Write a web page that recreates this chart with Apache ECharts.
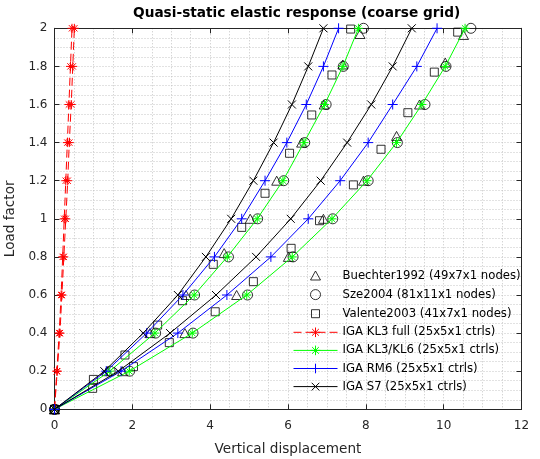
<!DOCTYPE html>
<html>
<head>
	<meta charset="utf-8" />
	<title>Quasi-static elastic response</title>
	<script src="https://cdn.jsdelivr.net/npm/echarts@6/dist/echarts.min.js"></script>
	<style>
		html, body { margin: 0; padding: 0; background: #fff; }
		#chart { width: 540px; height: 459px; }
	</style>
</head>
<body>
	<div id="chart"></div>
	<script type="text/javascript">
		// load steps of the IGA runs
		var loads = [0, 0.2, 0.4, 0.6, 0.8, 1.0, 1.2, 1.4, 1.6, 1.8, 2.0];

		// IGA results, two branches each (A = left curve, B = right curve)
		var kl3fullA = [0, 0.06, 0.12, 0.17, 0.21, 0.25, 0.29, 0.33, 0.37, 0.41, 0.45];
		var kl3fullB = [0, 0.07, 0.14, 0.19, 0.24, 0.29, 0.34, 0.38, 0.43, 0.47, 0.51];
		var kl6A = [0, 1.42, 2.58, 3.59, 4.44, 5.21, 5.87, 6.41, 6.94, 7.41, 7.81];
		var kl6B = [0, 1.92, 3.54, 4.94, 6.11, 7.13, 8.03, 8.79, 9.44, 10.04, 10.55];
		var rm6A = [0, 1.33, 2.37, 3.30, 4.11, 4.81, 5.41, 5.97, 6.47, 6.91, 7.30];
		var rm6B = [0, 1.71, 3.17, 4.43, 5.56, 6.52, 7.34, 8.06, 8.69, 9.31, 9.83];
		var s7A = [0, 1.28, 2.28, 3.17, 3.89, 4.54, 5.11, 5.63, 6.10, 6.52, 6.91];
		var s7B = [0, 1.64, 2.97, 4.15, 5.18, 6.07, 6.84, 7.52, 8.14, 8.69, 9.18];

		// reference solutions
		var szeA = [0, 1.43, 2.60, 3.60, 4.47, 5.22, 5.89, 6.43, 6.98, 7.42, 7.94];
		var szeB = [0, 1.93, 3.56, 4.96, 6.13, 7.15, 8.06, 8.81, 9.52, 10.06, 10.70];
		var buechXA = [0, 1.35, 2.45, 3.38, 4.36, 5.03, 5.71, 6.35, 6.93, 7.41, 7.85];
		var buechYA = [0, 0.2, 0.4, 0.6, 0.82, 1.0, 1.2, 1.4, 1.6, 1.81, 1.97];
		var buechXB = [0, 1.75, 3.35, 4.68, 6.01, 6.91, 7.94, 8.79, 9.38, 10.04, 10.51];
		var buechYB = [0, 0.2, 0.4, 0.6, 0.8, 1.0, 1.2, 1.435, 1.6, 1.82, 1.965];
		var valXA = [0, 1.0, 1.81, 2.65, 3.29, 4.08, 4.81, 5.41, 6.04, 6.61, 7.13, 7.61];
		var valYA = [0, 0.157, 0.285, 0.442, 0.57, 0.761, 0.955, 1.134, 1.344, 1.545, 1.755, 1.996];
		var valXB = [0, 0.98, 2.03, 2.95, 4.13, 5.11, 6.08, 6.81, 7.68, 8.39, 9.08, 9.76, 10.36];
		var valYB = [0, 0.11, 0.224, 0.35, 0.512, 0.67, 0.845, 0.99, 1.178, 1.365, 1.557, 1.77, 1.98];

		var names = [
			'Buechter1992 (49x7x1 nodes)',
			'Sze2004 (81x11x1 nodes)',
			'Valente2003 (41x7x1 nodes)',
			'IGA KL3 full (25x5x1 ctrls)',
			'IGA KL3/KL6 (25x5x1 ctrls)',
			'IGA RM6 (25x5x1 ctrls)',
			'IGA S7 (25x5x1 ctrls)'
		];

		function zip(xs, ys) {
			var out = [];
			for (var i = 0; i < xs.length; i++) out.push([xs[i], ys[i]]);
			return out;
		}

		var FONT = 'DejaVu Sans';
		var TRI = 'path://M0,0M12,12M1,10.5L6,1.5L11,10.5Z';
		var CIRC = 'path://M0,0M12,12M1,6A5,5,0,1,1,11,6A5,5,0,1,1,1,6Z';
		var SQ = 'path://M0,0M12,12M2,2L10,2L10,10L2,10Z';
		var PLUS = 'path://M5,0L5,10M0,5L10,5';
		var CROSS = 'path://M0,0M10,10M1,1L9,9M9,1L1,9';
		var STAR = 'path://M5,0L5,10M0,5L10,5M1.5,1.5L8.5,8.5M8.5,1.5L1.5,8.5';

		function refSeries(name, symbol, data) {
			return {
				name: name, type: 'scatter', data: data,
				symbol: symbol, symbolSize: 12, clip: false,
				itemStyle: { color: 'rgba(0,0,0,0)', borderColor: '#000', borderWidth: 1 }
			};
		}
		function igaSeries(name, symbol, size, color, xs, dash) {
			return {
				name: name, type: 'line', data: zip(xs, loads),
				symbol: symbol, symbolSize: size, showAllSymbol: true, clip: false,
				lineStyle: { color: color, width: 1, type: dash || 'solid' },
				itemStyle: { color: color, borderColor: color, borderWidth: 1 }
			};
		}

		var dotted = { show: true, lineStyle: { color: '#c4c4c4', width: 1, type: [1, 2] } };
		var axisCol = '#262626';

		var chart = echarts.init(document.getElementById('chart'), null, { renderer: 'canvas' });
		chart.setOption({
			animation: false,
			backgroundColor: '#fff',
			title: {
				text: 'Quasi-static elastic response (coarse grid)',
				left: 133, top: 6, padding: 0,
				textStyle: { fontFamily: FONT, fontSize: 13.7, fontWeight: 'bold', color: '#000' }
			},
			grid: { left: 54.5, right: 18.5, top: 28.3, bottom: 49.7, outerBoundsMode: 'none', containLabel: false },
			legend: {
				data: names, orient: 'vertical', left: 293, top: 269, padding: 0,
				itemWidth: 44, itemHeight: 12, itemGap: 6.1, selectedMode: false,
				itemStyle: { borderWidth: 1 },
				lineStyle: { width: 1 },
				textStyle: { fontFamily: FONT, fontSize: 11.7, color: '#000' }
			},
			xAxis: [
				{
					type: 'value', min: 0, max: 12, interval: 2, position: 'bottom',
					name: 'Vertical displacement', nameLocation: 'middle', nameGap: 33,
					nameTextStyle: { fontFamily: FONT, fontSize: 13.6, color: axisCol },
					axisLine: { show: true, onZero: false, lineStyle: { color: axisCol, width: 1 } },
					axisTick: { show: true, inside: true, length: 5, lineStyle: { color: axisCol } },
					axisLabel: { fontFamily: FONT, fontSize: 12, color: axisCol, margin: 11 },
					splitLine: dotted, minorTick: { show: false, splitNumber: 4 }, minorSplitLine: dotted
				},
				{
					type: 'value', min: 0, max: 12, interval: 2, position: 'top',
					axisLine: { show: true, onZero: false, lineStyle: { color: axisCol, width: 1 } },
					axisTick: { show: true, inside: true, length: 5, lineStyle: { color: axisCol } },
					axisLabel: { show: false }, splitLine: { show: false }
				}
			],
			yAxis: [
				{
					type: 'value', min: 0, max: 2, interval: 0.2, position: 'left',
					name: 'Load factor', nameLocation: 'middle', nameGap: 28,
					nameTextStyle: { fontFamily: FONT, fontSize: 13.6, color: axisCol },
					axisLine: { show: true, onZero: false, lineStyle: { color: axisCol, width: 1 } },
					axisTick: { show: true, inside: true, length: 5, lineStyle: { color: axisCol } },
					axisLabel: { fontFamily: FONT, fontSize: 12, color: axisCol, margin: 7 },
					splitLine: dotted, minorTick: { show: false, splitNumber: 4 }, minorSplitLine: dotted
				},
				{
					type: 'value', min: 0, max: 2, interval: 0.2, position: 'right',
					axisLine: { show: true, onZero: false, lineStyle: { color: axisCol, width: 1 } },
					axisTick: { show: true, inside: true, length: 5, lineStyle: { color: axisCol } },
					axisLabel: { show: false }, splitLine: { show: false }
				}
			],
			series: [
				refSeries(names[0], TRI, zip(buechXA, buechYA)),
				refSeries(names[0], TRI, zip(buechXB, buechYB)),
				refSeries(names[1], CIRC, zip(szeA, loads)),
				refSeries(names[1], CIRC, zip(szeB, loads)),
				refSeries(names[2], SQ, zip(valXA, valYA)),
				refSeries(names[2], SQ, zip(valXB, valYB)),
				igaSeries(names[3], STAR, 9, '#ff0000', kl3fullA, [8, 4]),
				igaSeries(names[3], STAR, 9, '#ff0000', kl3fullB, [8, 4]),
				igaSeries(names[4], STAR, 9, '#00ff00', kl6A),
				igaSeries(names[4], STAR, 9, '#00ff00', kl6B),
				igaSeries(names[5], PLUS, 10, '#0000ff', rm6A),
				igaSeries(names[5], PLUS, 10, '#0000ff', rm6B),
				igaSeries(names[6], CROSS, 10, '#000000', s7A),
				igaSeries(names[6], CROSS, 10, '#000000', s7B)
			]
		});
	</script>
</body>
</html>
